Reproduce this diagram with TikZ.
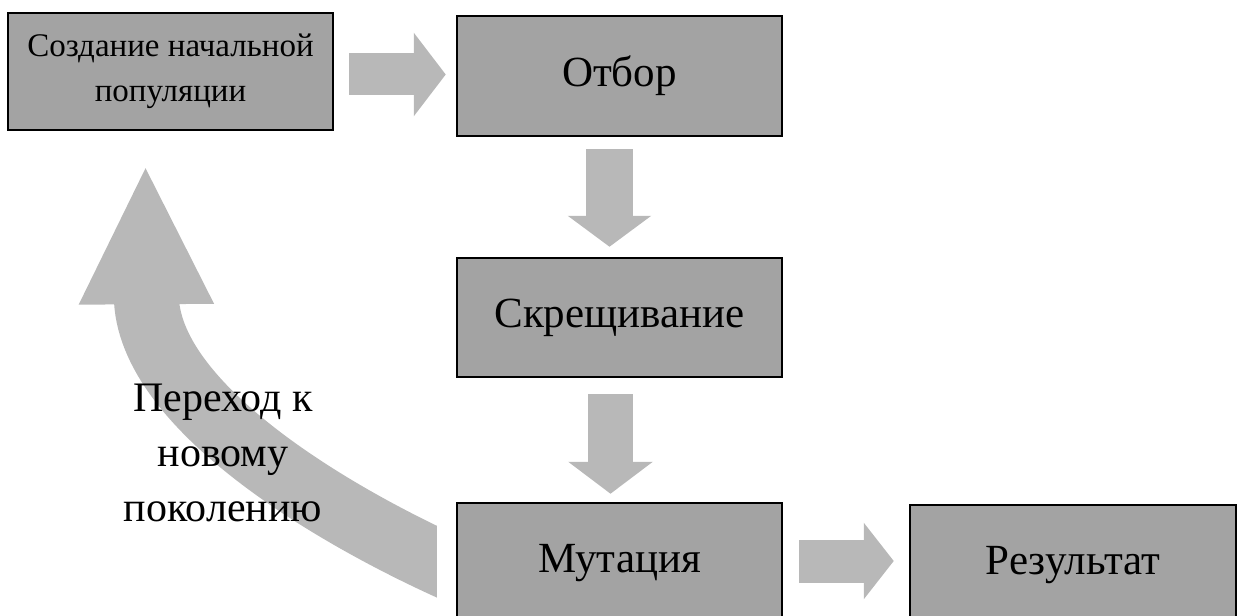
\documentclass[tikz,border=0pt]{standalone}
\usepackage{fontspec}
\setmainfont{Liberation Serif}
\usetikzlibrary{arrows.meta,calc}
\tikzset{
  stage/.style={draw=black, line width=2.5pt, fill=black!36, inner sep=0pt,
    minimum width=325pt, minimum height=120pt, text=black, align=center,
    font=\fontsize{43}{48}\selectfont},
  flow/.style={draw=black!28, line cap=butt},
  looplabel/.style={text=black, align=center, inner sep=0pt,
    font=\fontsize{42}{55}\selectfont}
}
\begin{document}
\begin{tikzpicture}[x=1pt,y=-1pt]
\useasboundingbox (0,0) rectangle (1238,615);
\clip (0,0) rectangle (1238,615);
\path
  (170.5,71.5) coordinate (c1)
  (619.5,76) coordinate (c2)
  (619.5,317.5) coordinate (c3)
  (619.5,563) coordinate (c4)
  (1073,565) coordinate (c5);
\node[stage, minimum height=117pt, font=\fontsize{33}{45}\selectfont] (b1) at (c1) {Создание начальной\\популяции};
\node[stage] (otbor) at (c2) {Отбор};
\node[stage, minimum height=119pt] (skr) at (c3) {Скрещивание};
\node[stage] (mut) at (c4) {Мутация};
\node[stage, minimum width=326pt] (res) at (c5) {Результат};
% curved return arrow
\begin{scope}
  \clip (0,0) rectangle ($(mut.west)+(-19,70)$);
  \draw[flow, line width=65pt, -{Triangle[width=124pt,length=140pt]}]
    ($(mut.west)+(15,14)$) .. controls ($(mut.west)+(-120,-44)$) and ($(b1.south)+(-23.5,275)$) .. ($(b1.south)+(-25,33)$);
\end{scope}
% straight block arrows
\draw[flow, line width=42pt, -{Triangle[width=82pt,length=32pt]}, shorten <=15pt, shorten >=10pt]
  ($(b1.east)+(0,3)$) -- ($(otbor.west |- b1.east)+(0,3)$);
\draw[flow, line width=47pt, -{Triangle[width=82pt,length=31pt]}, shorten <=12pt, shorten >=10pt]
  ($(otbor.south)+(-10,0)$) -- ($(skr.north)+(-10,0)$);
\draw[flow, line width=45pt, -{Triangle[width=83pt,length=32pt]}, shorten <=16pt, shorten >=8pt]
  ($(skr.south)+(-9,0)$) -- ($(mut.north)+(-9,0)$);
\draw[flow, line width=43pt, -{Triangle[width=75pt,length=30pt]}, shorten <=16pt, shorten >=15pt]
  ($(mut.east)+(0,-2)$) -- ($(res.west |- mut.east)+(0,-2)$);
% redraw mutation box over the arrow tail
\node[stage] at (c4) {Мутация};
\node[looplabel] (lab) at (223,453) {Переход к\\новому\\поколению};
\end{tikzpicture}
\end{document}
